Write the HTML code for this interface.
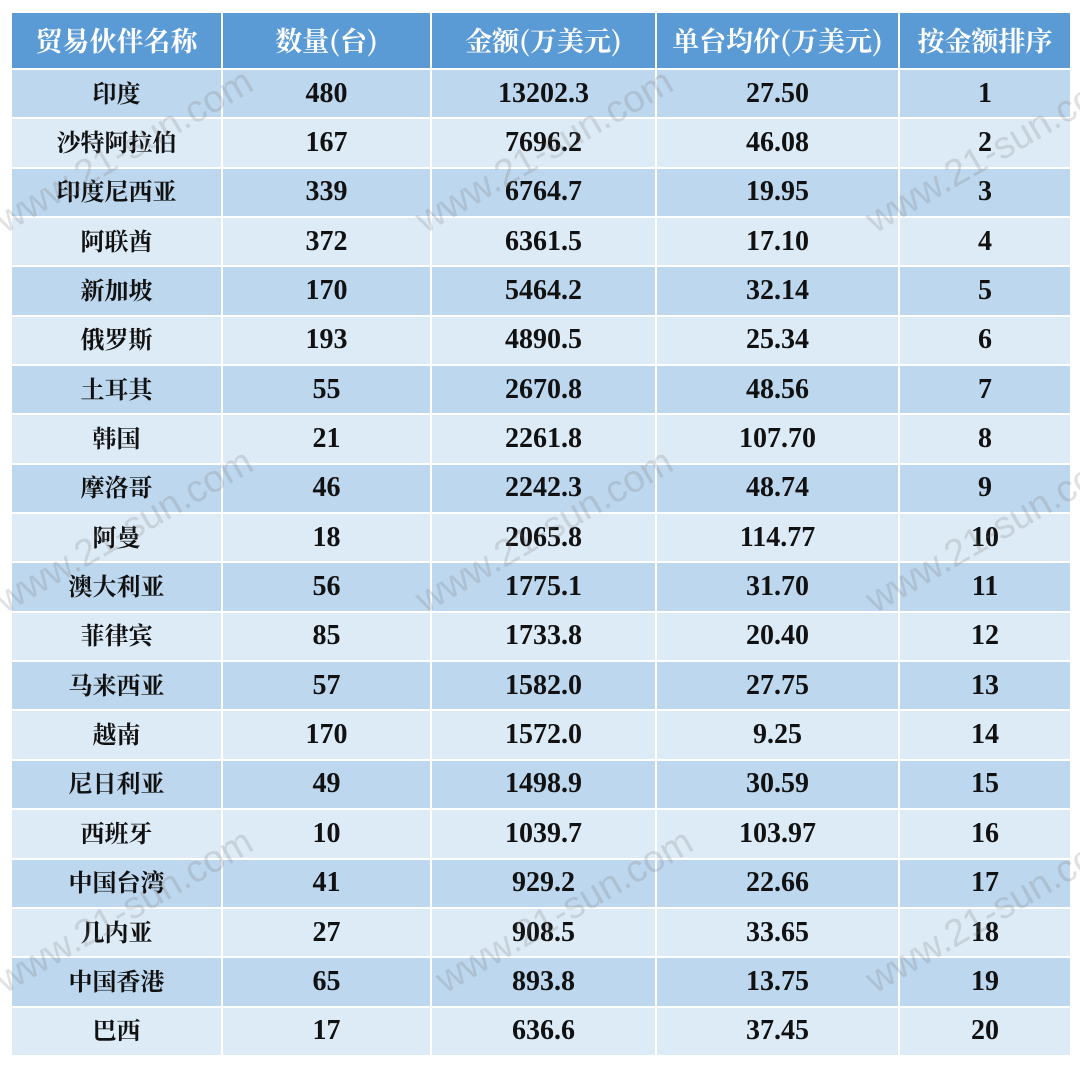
<!DOCTYPE html>
<html><head><meta charset="utf-8"><style>
body{margin:0;width:1080px;height:1067px;background:#fff;position:relative;overflow:hidden}
table{position:absolute;left:10px;top:11px;border-collapse:collapse;table-layout:fixed;width:1060px}
td,th{border:2px solid #fff;text-align:center;padding:0;font-family:"Liberation Serif","Noto Serif CJK SC",serif;font-weight:bold;color:#111;font-size:28px;line-height:1}
th{background:#5b9bd5;color:#fff;height:52px;font-size:27px;font-family:"Noto Serif CJK SC",serif;padding-bottom:3px}
td{height:47.35px}
td:first-child{font-family:"Noto Serif CJK SC",serif;font-size:24px;padding-bottom:4px;height:43.35px}
tr:nth-child(odd) td{background:#ddebf7}
tr:nth-child(even) td{background:#bdd7ee}
.wm{position:absolute;font-family:"Liberation Sans",sans-serif;font-size:38px;color:rgba(120,120,120,0.22);transform:rotate(-30deg);white-space:nowrap}
</style></head><body>
<table>
<colgroup><col style="width:211px"><col style="width:209px"><col style="width:225px"><col style="width:243px"><col style="width:172px"></colgroup>
<tr><th>贸易伙伴名称</th><th>数量(台)</th><th>金额(万美元)</th><th>单台均价(万美元)</th><th>按金额排序</th></tr>
<tr><td>印度</td><td>480</td><td>13202.3</td><td>27.50</td><td>1</td></tr>
<tr><td>沙特阿拉伯</td><td>167</td><td>7696.2</td><td>46.08</td><td>2</td></tr>
<tr><td>印度尼西亚</td><td>339</td><td>6764.7</td><td>19.95</td><td>3</td></tr>
<tr><td>阿联酋</td><td>372</td><td>6361.5</td><td>17.10</td><td>4</td></tr>
<tr><td>新加坡</td><td>170</td><td>5464.2</td><td>32.14</td><td>5</td></tr>
<tr><td>俄罗斯</td><td>193</td><td>4890.5</td><td>25.34</td><td>6</td></tr>
<tr><td>土耳其</td><td>55</td><td>2670.8</td><td>48.56</td><td>7</td></tr>
<tr><td>韩国</td><td>21</td><td>2261.8</td><td>107.70</td><td>8</td></tr>
<tr><td>摩洛哥</td><td>46</td><td>2242.3</td><td>48.74</td><td>9</td></tr>
<tr><td>阿曼</td><td>18</td><td>2065.8</td><td>114.77</td><td>10</td></tr>
<tr><td>澳大利亚</td><td>56</td><td>1775.1</td><td>31.70</td><td>11</td></tr>
<tr><td>菲律宾</td><td>85</td><td>1733.8</td><td>20.40</td><td>12</td></tr>
<tr><td>马来西亚</td><td>57</td><td>1582.0</td><td>27.75</td><td>13</td></tr>
<tr><td>越南</td><td>170</td><td>1572.0</td><td>9.25</td><td>14</td></tr>
<tr><td>尼日利亚</td><td>49</td><td>1498.9</td><td>30.59</td><td>15</td></tr>
<tr><td>西班牙</td><td>10</td><td>1039.7</td><td>103.97</td><td>16</td></tr>
<tr><td>中国台湾</td><td>41</td><td>929.2</td><td>22.66</td><td>17</td></tr>
<tr><td>几内亚</td><td>27</td><td>908.5</td><td>33.65</td><td>18</td></tr>
<tr><td>中国香港</td><td>65</td><td>893.8</td><td>13.75</td><td>19</td></tr>
<tr><td>巴西</td><td>17</td><td>636.6</td><td>37.45</td><td>20</td></tr>
</table>
<div class="wm" style="left:-20px;top:130px">www.21-sun.com</div>
<div class="wm" style="left:400px;top:130px">www.21-sun.com</div>
<div class="wm" style="left:850px;top:130px">www.21-sun.com</div>
<div class="wm" style="left:-20px;top:510px">www.21-sun.com</div>
<div class="wm" style="left:400px;top:510px">www.21-sun.com</div>
<div class="wm" style="left:850px;top:510px">www.21-sun.com</div>
<div class="wm" style="left:-20px;top:890px">www.21-sun.com</div>
<div class="wm" style="left:420px;top:890px">www.21-sun.com</div>
<div class="wm" style="left:850px;top:890px">www.21-sun.com</div>
</body></html>
